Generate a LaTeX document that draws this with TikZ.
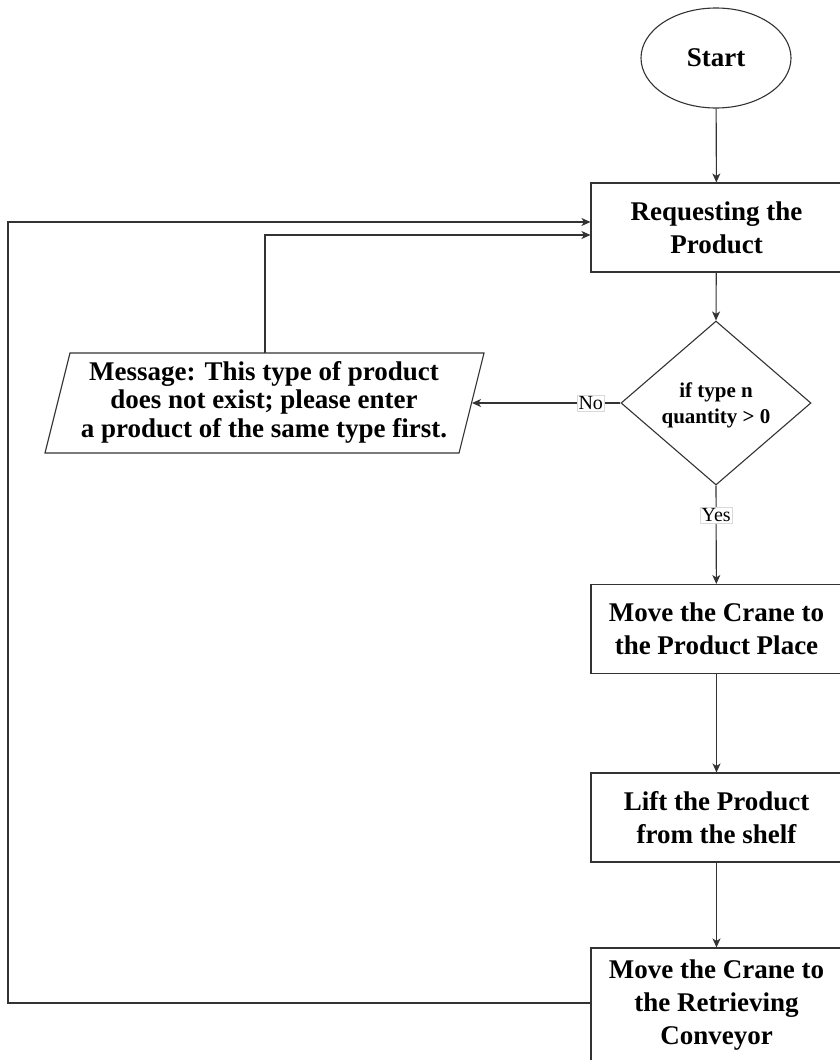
\documentclass[tikz,border=0pt]{standalone}
\usepackage{fontspec}
\setmainfont{Liberation Serif}
\usetikzlibrary{shapes.geometric,arrows.meta}
\begin{document}
\begin{tikzpicture}[x=1pt,y=-1pt,
  ln/.style={draw=black!80, line width=1.1pt},
  arr/.style={ln, -{Stealth[length=9pt,width=8pt,inset=2.5pt]}},
  procbox/.style={ln, rectangle, minimum width=251pt, minimum height=89pt, inner sep=0pt, align=center,
     font=\fontsize{27}{33}\selectfont\bfseries},
  lbl/.style={fill=white, draw=black!15, line width=0.6pt, inner sep=1.5pt, font=\fontsize{20}{22}\selectfont}
]
\useasboundingbox (0,0) rectangle (840,1060);
\fill[white] (0,0) rectangle (840,1060);

\node[ln, ellipse, minimum width=150pt, minimum height=100pt, inner sep=0pt,
      font=\fontsize{27}{33}\selectfont\bfseries] (start) at (716,58) {Start};

\node[procbox] (req) at (716.5,227.5) {Requesting the\\Product};

\node[ln, diamond, minimum width=190pt, minimum height=164pt, inner sep=0pt] (dec) at (716,403) {};
\node[align=center, font=\fontsize{21}{26}\selectfont\bfseries] (dect) at (716,405) {if type n\\quantity {>} 0};

\coordinate (pBL) at (45,453);
\coordinate (pTL) at (70,353);
\coordinate (pTR) at (484,353);
\coordinate (pBR) at (459,453);
\coordinate (mTop) at (265,353);
\coordinate (mRight) at (472,403);
\draw[ln] (pBL) -- (pTL) -- (pTR) -- (pBR) -- cycle;
\node[align=center, font=\fontsize{27}{28.5}\selectfont\bfseries] (msg) at (264,402)
  {Message: This type of product\\does not exist; please enter\\ a product of the same type first.};

\node[procbox] (move) at (716.5,629) {Move the Crane to\\the Product Place};
\node[procbox] (lift) at (716.5,817.5) {Lift the Product\\from the shelf};
\node[procbox, minimum height=114pt] (ret) at (716.5,1005) {Move the Crane to\\the Retrieving\\Conveyor};

\draw[arr] (start) -- (req);
\draw[arr] (req) -- (dec.north);
\draw[arr] (dec.west) -- node[lbl, pos=0.2] {No} (mRight);
\draw[arr] (dec.south) -- node[lbl, pos=0.3] {Yes} (move);
\draw[arr] (move) -- (lift);
\draw[arr] (lift) -- (ret);
\coordinate (loopL) at (8,1003);
\draw[arr] (ret.west |- loopL) -- (loopL) |- ([yshift=5.5pt]req.west);
\draw[arr] (mTop) |- ([yshift=-7.5pt]req.west);
\end{tikzpicture}
\end{document}
